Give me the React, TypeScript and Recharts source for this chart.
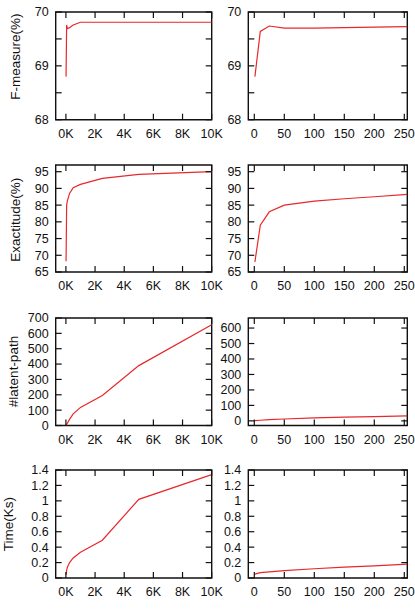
import React from "react";
import { LineChart, Line, XAxis, YAxis, ReferenceArea } from "recharts";

// Training-set size sweep (left column) and latent-path budget sweep (right column)
const sizeX = [10, 50, 100, 250, 500, 1000, 2500, 5000, 10000];
const budgetX = [1, 10, 25, 50, 100, 150, 200, 255];

const fMeasureBySize = [68.8, 69.76, 69.69, 69.71, 69.76, 69.81, 69.81, 69.81, 69.81];
const fMeasureByBudget = [68.8, 69.64, 69.74, 69.7, 69.7, 69.71, 69.72, 69.73];

const exactitudeBySize = [68.2, 85, 86.3, 88.5, 90.2, 91.2, 93, 94.2, 95];
const exactitudeByBudget = [68, 79, 83, 85, 86.2, 86.9, 87.5, 88.2];

const latentBySize = [1, 7, 15, 40, 76, 118, 195, 390, 656];
const latentByBudget = [1, 4, 8, 12, 19, 24, 28, 32];

const timeBySize = [0.04, 0.1, 0.14, 0.2, 0.26, 0.335, 0.49, 1.02, 1.34];
const timeByBudget = [0.05, 0.07, 0.08, 0.095, 0.12, 0.14, 0.157, 0.18];

const sizeTicks = [0, 2000, 4000, 6000, 8000, 10000];
const budgetTicks = [0, 50, 100, 150, 200, 250];

const fTicks = [68, 68.5, 69, 69.5, 70];
const exTicks = [65, 70, 75, 80, 85, 90, 95];
const latentTicksLeft = [0, 100, 200, 300, 400, 500, 600, 700];
const latentTicksRight = [0, 100, 200, 300, 400, 500, 600];
const timeTicks = [0, 0.2, 0.4, 0.6, 0.8, 1, 1.2, 1.4];

const FONT = "'Liberation Sans', Arial, Helvetica, sans-serif";
const INK = "#111";
const RED = "#e8282a";
const TICK_LEN = 6;
const X_AXIS_H = 24;

const zip = (xs: number[], ys: number[]) => xs.map((x, i) => ({ x, y: ys[i] }));

const kFmt = (v: number) => `${v / 1000}K`;
const plainFmt = (v: number) => `${v}`;
const intOnlyFmt = (v: number) => (Number.isInteger(v) ? `${v}` : "");

type Box = { x0: number; y0: number; x1: number; y1: number };

type PanelProps = {
  box: Box;
  left: number;
  width: number;
  yAxisW: number;
  data: { x: number; y: number }[];
  xDomain: [number, number];
  xTicks: number[];
  xFmt: (v: number) => string;
  yDomain: [number, number];
  yTicks: number[];
  yFmt: (v: number) => string;
  title?: string;
  titleX?: number;
  titleY?: number;
};

function Panel(p: PanelProps) {
  const top = p.box.y0 - 12;
  const height = 150;
  const pw = p.box.x1 - p.box.x0;
  const ph = p.box.y1 - p.box.y0;
  const margin = {
    left: p.box.x0 - p.left - p.yAxisW,
    right: p.left + p.width - p.box.x1,
    top: p.box.y0 - top,
    bottom: top + height - p.box.y1 - X_AXIS_H,
  };

  const xTick = (props: any) => {
    const { x, y, payload } = props;
    return (
      <g>
        <line x1={x} y1={y} x2={x} y2={y - TICK_LEN} stroke={INK} strokeWidth={1.2} />
        <line x1={x} y1={y - ph} x2={x} y2={y - ph + TICK_LEN} stroke={INK} strokeWidth={1.2} />
        <text x={x} y={y + 18} textAnchor="middle" fontSize={12.5} fontFamily={FONT} fill={INK}>
          {p.xFmt(payload.value)}
        </text>
      </g>
    );
  };

  const yTick = (props: any) => {
    const { x, y, payload } = props;
    const label = p.yFmt(payload.value);
    return (
      <g>
        <line x1={x} y1={y} x2={x + TICK_LEN} y2={y} stroke={INK} strokeWidth={1.2} />
        <line x1={x + pw} y1={y} x2={x + pw - TICK_LEN} y2={y} stroke={INK} strokeWidth={1.2} />
        {label && (
          <text x={x - 7} y={y + 4.4} textAnchor="end" fontSize={12.5} fontFamily={FONT} fill={INK}>
            {label}
          </text>
        )}
      </g>
    );
  };

  return (
    <div style={{ position: "absolute", left: p.left, top, width: p.width, height }}>
      <LineChart width={p.width} height={height} data={p.data} margin={margin}>
        <XAxis
          dataKey="x"
          type="number"
          domain={p.xDomain}
          ticks={p.xTicks}
          interval={0}
          allowDataOverflow
          height={X_AXIS_H}
          tickSize={0}
          tickMargin={0}
          tickLine={false}
          axisLine={false}
          tick={xTick}
        />
        <YAxis
          type="number"
          domain={p.yDomain}
          ticks={p.yTicks}
          interval={0}
          allowDataOverflow
          width={p.yAxisW}
          tickSize={0}
          tickMargin={0}
          tickLine={false}
          axisLine={false}
          tick={yTick}
        />
        <ReferenceArea
          x1={p.xDomain[0]}
          x2={p.xDomain[1]}
          y1={p.yDomain[0]}
          y2={p.yDomain[1]}
          fill="none"
          fillOpacity={0}
          stroke={INK}
          strokeWidth={1.4}
          ifOverflow="visible"
        />
        <Line
          type="linear"
          dataKey="y"
          stroke={RED}
          strokeWidth={1.2}
          dot={false}
          activeDot={false}
          isAnimationActive={false}
        />
      </LineChart>
      {p.title && (
        <svg
          width={30}
          height={height}
          style={{ position: "absolute", left: 0, top: 0, overflow: "visible" }}
        >
          <text
            x={p.titleX}
            y={(p.titleY ?? 0) - top}
            transform={`rotate(-90 ${p.titleX} ${(p.titleY ?? 0) - top})`}
            textAnchor="middle"
            dominantBaseline="central"
            fontSize={13.5}
            fontFamily={FONT}
            fill={INK}
          >
            {p.title}
          </text>
        </svg>
      )}
    </div>
  );
}

const rowBoxesY: [number, number][] = [
  [12.3, 120],
  [165.3, 272.3],
  [317.5, 425],
  [470, 578],
];

const LEFT = { left: 0, width: 232, x0: 55.7, x1: 211.7, yAxisW: 40 };
const RIGHT = { left: 208, width: 207, x0: 248.3, x1: 407.3, yAxisW: 34 };

export default function App() {
  const rows = [
    {
      title: "F-measure(%)",
      tx: 16,
      ty: 57,
      l: fMeasureBySize,
      r: fMeasureByBudget,
      yl: [68, 70] as [number, number],
      yr: [68, 70] as [number, number],
      tl: fTicks,
      tr: fTicks,
      fmt: intOnlyFmt,
    },
    {
      title: "Exactitude(%)",
      tx: 15.5,
      ty: 220,
      l: exactitudeBySize,
      r: exactitudeByBudget,
      yl: [65, 97] as [number, number],
      yr: [65, 97] as [number, number],
      tl: exTicks,
      tr: exTicks,
      fmt: plainFmt,
    },
    {
      title: "#latent-path",
      tx: 13.5,
      ty: 371,
      l: latentBySize,
      r: latentByBudget,
      yl: [0, 700] as [number, number],
      yr: [-30, 665] as [number, number],
      tl: latentTicksLeft,
      tr: latentTicksRight,
      fmt: plainFmt,
    },
    {
      title: "Time(Ks)",
      tx: 8.5,
      ty: 524,
      l: timeBySize,
      r: timeByBudget,
      yl: [0, 1.4] as [number, number],
      yr: [0, 1.4] as [number, number],
      tl: timeTicks,
      tr: timeTicks,
      fmt: plainFmt,
    },
  ];

  return (
    <div
      style={{
        position: "absolute",
        left: 0,
        top: 0,
        width: 415,
        height: 611,
        background: "#fff",
        overflow: "hidden",
      }}
    >
      {rows.map((row, i) => {
        const [y0, y1] = rowBoxesY[i];
        return (
          <React.Fragment key={row.title}>
            <Panel
              box={{ x0: LEFT.x0, x1: LEFT.x1, y0, y1 }}
              left={LEFT.left}
              width={LEFT.width}
              yAxisW={LEFT.yAxisW}
              data={zip(sizeX, row.l)}
              xDomain={[-700, 10000]}
              xTicks={sizeTicks}
              xFmt={kFmt}
              yDomain={row.yl}
              yTicks={row.tl}
              yFmt={row.fmt}
              title={row.title}
              titleX={row.tx}
              titleY={row.ty}
            />
            <Panel
              box={{ x0: RIGHT.x0, x1: RIGHT.x1, y0, y1 }}
              left={RIGHT.left}
              width={RIGHT.width}
              yAxisW={RIGHT.yAxisW}
              data={zip(budgetX, row.r)}
              xDomain={[-10, 255]}
              xTicks={budgetTicks}
              xFmt={plainFmt}
              yDomain={row.yr}
              yTicks={row.tr}
              yFmt={row.fmt}
            />
          </React.Fragment>
        );
      })}
    </div>
  );
}
